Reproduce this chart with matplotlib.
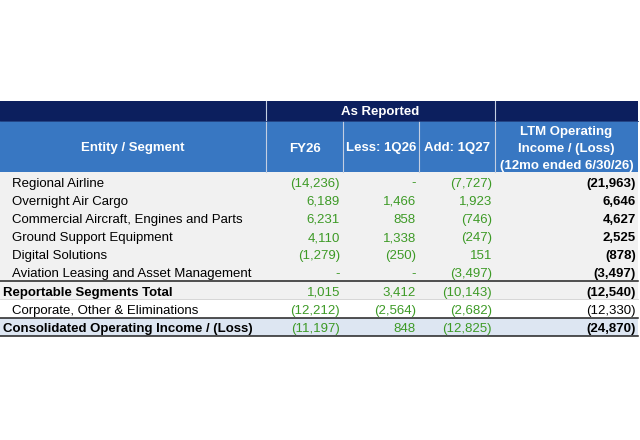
import matplotlib
matplotlib.use("Agg")
import matplotlib.pyplot as plt
from matplotlib.patches import Rectangle

# table data
segments = ["Regional Airline", "Overnight Air Cargo",
            "Commercial Aircraft, Engines and Parts", "Ground Support Equipment",
            "Digital Solutions", "Aviation Leasing and Asset Management",
            "Reportable Segments Total", "Corporate, Other & Eliminations",
            "Consolidated Operating Income / (Loss)"]
fy26 = [-14236, 6189, 6231, 4110, -1279, 0, 1015, -12212, -11197]
less_1q26 = [0, 1466, 858, 1338, -250, 0, 3412, -2564, 848]
add_1q27 = [-7727, 1923, -746, -247, 151, -3497, -10143, -2682, -12825]
ltm = [-21963, 6646, 4627, 2525, -878, -3497, -12540, -12330, -24870]
bold_rows = [6, 8]

col_headers = ["Entity / Segment", "FY26", "Less: 1Q26", "Add: 1Q27",
               ["LTM Operating", "Income / (Loss)", "(12mo ended 6/30/26)"]]

NAVY = "#0c1f5e"
BLUE = "#3877c2"
GREEN = "#3d9a26"
SEP = "#c4cfe2"
FS = 9.5

plt.rcParams['font.family'] = ['Liberation Sans', 'DejaVu Sans']


def fmt(v):
    if v == 0:
        return "-"
    if v < 0:
        return "({:,})".format(-v)
    return "{:,}".format(v)


fig = plt.figure(figsize=(6.4, 4.4), dpi=100)
ax = fig.add_axes([0, 0, 1, 1])
ax.set_xlim(0, 640)
ax.set_ylim(440, 0)
ax.axis("off")

x_edges = [0, 266, 343, 419, 495, 638]
top, band_bot, head_bot = 101, 121, 172
row_h = 18.2

# header blocks
ax.add_patch(Rectangle((0, top), 638, band_bot - top, color=NAVY, lw=0))
ax.add_patch(Rectangle((0, band_bot), 638, head_bot - band_bot, color=BLUE, lw=0))
for x in x_edges[1:-1]:
    y0 = top if x in (266, 495) else band_bot
    ax.plot([x, x], [y0, head_bot], color=SEP, lw=0.8)
ax.plot([0, 638], [band_bot, band_bot], color="#1f3c7a", lw=0.6)

ax.text((266 + 495) / 2, 115.5, "As Reported", color="white",
        fontsize=FS, fontweight="bold", ha="center", va="baseline")
for i, h in enumerate(col_headers):
    cx = (x_edges[i] + x_edges[i + 1]) / 2
    if isinstance(h, list):
        for j, line in enumerate(h):
            ax.text(cx, 135.5 + j * 16.5, line, color="white", fontsize=FS,
                    fontweight="bold", ha="center", va="baseline")
    else:
        ax.text(cx, 151.5, h, color="white", fontsize=FS,
                fontweight="bold", ha="center", va="baseline")

# body rows
for r, name in enumerate(segments):
    y0 = head_bot + r * row_h
    yb = y0 + 14.5
    if r == 8:
        bg = "#dde6f2"
    elif r == 7:
        bg = "white"
    else:
        bg = "#f1f1f1"
    ax.add_patch(Rectangle((0, y0), 638, row_h, color=bg, lw=0))
    bold = r in bold_rows
    ax.text(3 if bold else 12, yb, name, fontsize=FS, color="black",
            fontweight="bold" if bold else "normal", va="baseline", ha="left")
    for c, vals in enumerate([fy26, less_1q26, add_1q27]):
        ax.text(x_edges[c + 2] - 3, yb, fmt(vals[r]), fontsize=FS, color=GREEN,
                ha="right", va="baseline")
    ax.text(636, yb, fmt(ltm[r]), fontsize=FS, color="black",
            fontweight="normal" if r == 7 else "bold", ha="right", va="baseline")

# rule lines
for k in (6, 8, 9):
    y = head_bot + k * row_h
    ax.plot([0, 638], [y, y], color="#222222", lw=1.1)
ax.plot([0, 638], [head_bot + 7 * row_h, head_bot + 7 * row_h], color="#d0d0d0", lw=0.6)

fig.savefig("out.png", dpi=100)
